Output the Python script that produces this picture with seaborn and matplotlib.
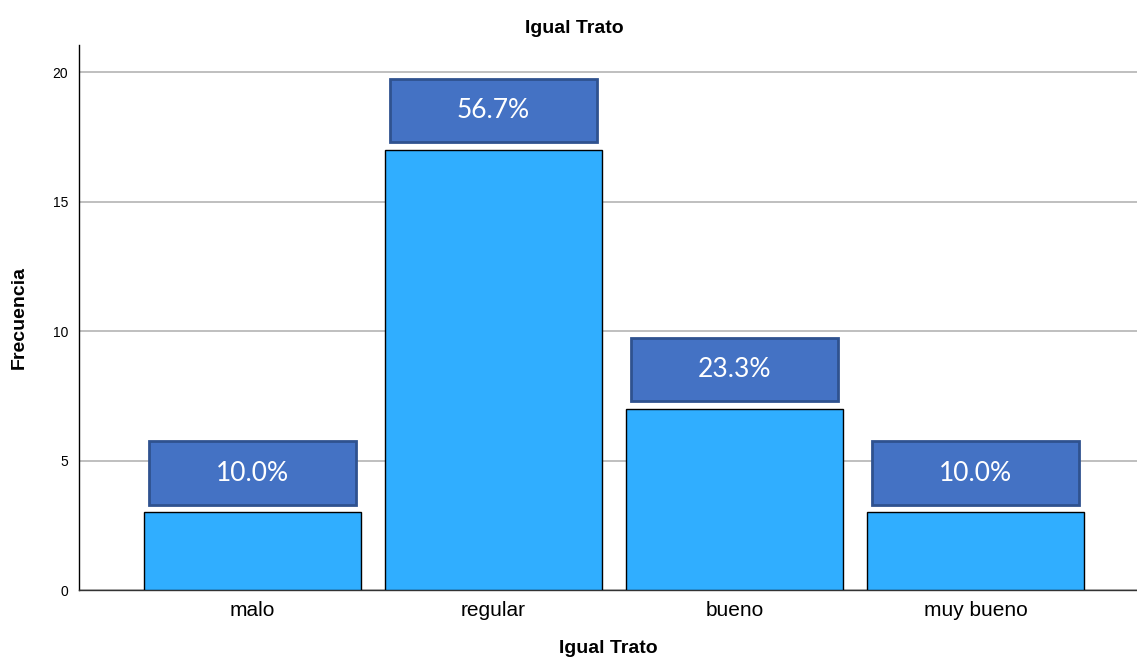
import pandas as pd
import seaborn as sns
import matplotlib.pyplot as plt
from matplotlib.patches import Rectangle

# data
categories = ['malo', 'regular', 'bueno', 'muy bueno']
counts = [3, 17, 7, 3]

df = pd.DataFrame({'cat': categories, 'n': counts})
total = sum(counts)
pcts = [100 * c / total for c in counts]

bar_color = '#30aeff'
box_fill = '#4472c4'
box_edge = '#2f528f'

sns.set_style('white')
plt.rcParams['font.family'] = ['Liberation Sans', 'DejaVu Sans']
plt.rcParams['text.color'] = 'black'
plt.rcParams['axes.labelcolor'] = 'black'
plt.rcParams['xtick.color'] = 'black'
plt.rcParams['ytick.color'] = 'black'

fig = plt.figure(figsize=(11.37, 6.67), dpi=100)
ax = fig.add_axes([0.0695, 0.1154, 0.9305, 0.8171])

sns.barplot(data=df, x='cat', y='n', color=bar_color, saturation=1,
            width=0.9, edgecolor='black', linewidth=1, ax=ax, zorder=3)

# percentage labels in boxes above each bar
for i, (c, p) in enumerate(zip(counts, pcts)):
    ax.add_patch(Rectangle((i - 0.43, c + 0.3), 0.86, 2.45, facecolor=box_fill,
                           edgecolor=box_edge, linewidth=2, zorder=4))
    ax.text(i, c + 0.3 + 1.22, f'{p:.1f}%', ha='center', va='center',
            color='white', fontsize=19, family=['Lato', 'DejaVu Sans'], zorder=5)

ax.set_ylim(0, 21.05)
ax.set_xlim(-0.72, 3.67)
ax.set_yticks([0, 5, 10, 15, 20])
ax.yaxis.grid(True, color='#b4b4b4', linewidth=1.2, zorder=0)
ax.set_axisbelow(True)
ax.tick_params(axis='y', labelsize=10, length=0, pad=8)
ax.tick_params(axis='x', labelsize=15, length=0, pad=8)

for side in ['top', 'right']:
    ax.spines[side].set_visible(False)
ax.spines['left'].set_color('black')
ax.spines['bottom'].set_color('#333333')
ax.spines['left'].set_linewidth(1)
ax.spines['bottom'].set_linewidth(1)

ax.set_xlabel('Igual Trato', fontsize=14, fontweight='bold', labelpad=14)
ax.set_ylabel('Frecuencia', fontsize=14, fontweight='bold', labelpad=18)
fig.suptitle('Igual Trato', x=0.505, y=0.97, fontsize=14, fontweight='bold')

fig.savefig('out.png', dpi=100)
